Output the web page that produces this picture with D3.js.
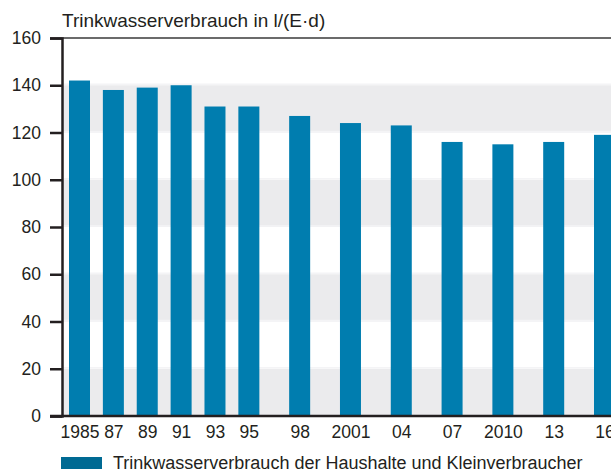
<!DOCTYPE html>
<html>
<head>
<meta charset="utf-8">
<script src="https://cdn.jsdelivr.net/npm/d3@7"></script>
<style>
  body { margin: 0; background: #fff; }
  svg text { font-family: "Liberation Sans", Arial, sans-serif; fill: #231f20; }
</style>
</head>
<body>
<svg id="chart" width="611" height="473"></svg>
<script>
const years = [1985, 1987, 1989, 1991, 1993, 1995, 1998, 2001, 2004, 2007, 2010, 2013, 2016];
const yearLabels = ["1985", "87", "89", "91", "93", "95", "98", "2001", "04", "07", "2010", "13", "16"];
const consumption = [142, 138, 139, 140, 131, 131, 127, 124, 123, 116, 115, 116, 119];
const yTicks = [0, 20, 40, 60, 80, 100, 120, 140, 160];
const bands = [[0, 20], [40, 60], [80, 100], [120, 140]];
const unitLabel = "Trinkwasserverbrauch in l/(E\u00B7d)";
const legendLabel = "Trinkwasserverbrauch der Haushalte und Kleinverbraucher";

const svg = d3.select("#chart");
const margin = { top: 38, right: 0, bottom: 57, left: 62 };
const width = 611;
const height = 473;

const x = d3.scaleLinear()
  .domain([1985, 2016])
  .range([79.5, 604.5]);

const y = d3.scaleLinear()
  .domain([0, 160])
  .range([416, margin.top]);

// grey bands
svg.append("g").selectAll("rect")
  .data(bands)
  .enter()
  .append("rect")
  .attr("x", margin.left)
  .attr("y", d => y(d[1]))
  .attr("width", width - margin.left)
  .attr("height", d => y(d[0]) - y(d[1]))
  .attr("fill", "#ebebed");

// faint light lines at the band edges
svg.append("g").selectAll("line")
  .data(yTicks.filter(t => t > 0 && t < 160))
  .enter()
  .append("line")
  .attr("x1", margin.left)
  .attr("x2", width)
  .attr("y1", d => y(d) - 1)
  .attr("y2", d => y(d) - 1)
  .attr("stroke", "#f4f4f6")
  .attr("stroke-width", 1.5);

// bars
const barW = 21;
svg.append("g").selectAll("rect")
  .data(years)
  .enter()
  .append("rect")
  .attr("x", (d, i) => x(d) - barW / 2)
  .attr("y", (d, i) => y(consumption[i]))
  .attr("width", barW)
  .attr("height", (d, i) => y(0) - y(consumption[i]))
  .attr("fill", "#007daf");

// top frame line
svg.append("line")
  .attr("x1", margin.left)
  .attr("x2", width)
  .attr("y1", y(160))
  .attr("y2", y(160))
  .attr("stroke", "#3a3a3a")
  .attr("stroke-width", 1.5);

// y axis
const yAxis = svg.append("g")
  .attr("transform", "translate(" + margin.left + ",0)")
  .call(d3.axisLeft(y).tickValues(yTicks).tickSize(12).tickPadding(9));
yAxis.select(".domain").attr("stroke", "#231f20").attr("stroke-width", 2.5);
yAxis.selectAll(".tick line").attr("stroke", "#231f20").attr("stroke-width", 2.5);
yAxis.selectAll(".tick text")
  .attr("font-size", 17.5)
  .attr("fill", "#231f20")
  .attr("font-family", "Liberation Sans, Arial, sans-serif");

// x axis (baseline)
const xAxis = svg.append("g")
  .attr("transform", "translate(0," + y(0) + ")")
  .call(d3.axisBottom(x).tickValues(years).tickFormat((d, i) => yearLabels[i]).tickSize(0).tickPadding(10));
xAxis.select(".domain").remove();
xAxis.selectAll(".tick text")
  .attr("font-size", 17.5)
  .attr("fill", "#231f20")
  .attr("font-family", "Liberation Sans, Arial, sans-serif");
svg.append("line")
  .attr("x1", 50)
  .attr("x2", width)
  .attr("y1", y(0))
  .attr("y2", y(0))
  .attr("stroke", "#231f20")
  .attr("stroke-width", 2.5);

// unit label
svg.append("text")
  .attr("x", 62)
  .attr("y", 27)
  .attr("font-size", 19)
  .text(unitLabel);

// legend
svg.append("rect")
  .attr("x", 61)
  .attr("y", 457)
  .attr("width", 41)
  .attr("height", 12)
  .attr("fill", "#006a93");
svg.append("text")
  .attr("x", 113)
  .attr("y", 469)
  .attr("font-size", 18)
  .text(legendLabel);
</script>
</body>
</html>
